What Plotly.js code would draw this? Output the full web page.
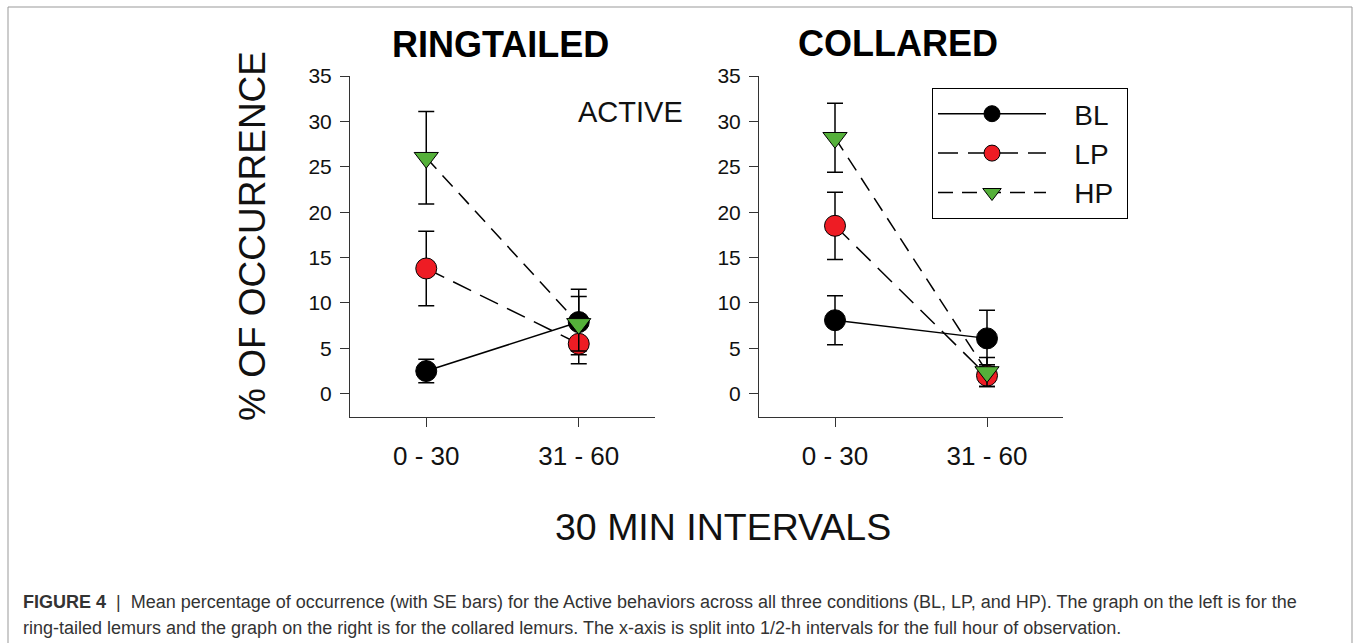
<!DOCTYPE html>
<html>
<head>
<meta charset="utf-8">
<script src="https://cdn.plot.ly/plotly-3.0.1.min.js"></script>
<style>
html,body{margin:0;padding:0;background:#fff;}
#chart{width:1356px;height:643px;}
</style>
</head>
<body>
<div id="chart"></div>
<script>
// ---- data ----
var categories = ['0 - 30', '31 - 60'];
var seriesNames = ['BL', 'LP', 'HP'];

var ringBL = [2.5, 7.9];
var ringBLse = [1.3, 3.6];
var ringLP = [13.8, 5.5];
var ringLPse = [4.1, 2.2];
var ringHP = [26.0, 7.7];
var ringHPse = [5.1, 3.0];

var collBL = [8.1, 6.1];
var collBLse = [2.7, 3.1];
var collLP = [18.5, 2.0];
var collLPse = [3.7, 1.2];
var collHP = [28.2, 2.4];
var collHPse = [3.8, 1.6];

var yTicks = [0, 5, 10, 15, 20, 25, 30, 35];
var panelTitles = ['RINGTAILED', 'COLLARED'];

// ---- styles ----
var FONT = 'Liberation Sans, Arial, sans-serif';
var styles = {
  BL: {color: '#000000', symbol: 'circle', size: 21, dash: 'solid'},
  LP: {color: '#EE1C24', symbol: 'circle', size: 21, dash: '20px,10px'},
  HP: {color: '#55B03A', symbol: 'triangle-down', size: 21, dash: '15px,9px'}
};

function mk(name, y, se, xa, ya, show) {
  var s = styles[name];
  return {
    type: 'scatter', mode: 'lines+markers',
    name: '\u00a0\u00a0\u00a0' + name + '\u00a0',
    x: categories, y: y, xaxis: xa, yaxis: ya, showlegend: show,
    line: {color: '#000', width: 1.5, dash: s.dash},
    marker: {color: s.color, symbol: s.symbol, size: s.size, line: {color: '#000', width: 1}},
    error_y: {type: 'data', array: se, visible: true, color: '#000', thickness: 1.5, width: 8},
    cliponaxis: false
  };
}

var data = [
  mk('BL', ringBL, ringBLse, 'x', 'y', false),
  mk('LP', ringLP, ringLPse, 'x', 'y', false),
  mk('HP', ringHP, ringHPse, 'x', 'y', false),
  mk('BL', collBL, collBLse, 'x2', 'y2', true),
  mk('LP', collLP, collLPse, 'x2', 'y2', true),
  mk('HP', collHP, collHPse, 'x2', 'y2', true)
];

var W = 1356, H = 643;
function px(v){ return v / W; }
function py(v){ return 1 - v / H; }

function xax(domain, anchor) {
  return {
    domain: domain, anchor: anchor, type: 'category', range: [-0.5, 1.5],
    showline: true, linecolor: '#333', linewidth: 1, mirror: false,
    ticks: 'outside', ticklen: 9, tickcolor: '#333', tickwidth: 1,
    showgrid: false, zeroline: false, fixedrange: true,
    tickfont: {family: FONT, size: 26, color: '#111'},
    ticklabelstandoff: 7
  };
}
function yax(anchor) {
  return {
    domain: [py(417), py(76)], anchor: anchor, range: [-2.56, 35],
    tickvals: yTicks, ticktext: yTicks.map(String),
    showline: true, linecolor: '#333', linewidth: 1, mirror: false,
    ticks: 'outside', ticklen: 9, tickcolor: '#333', tickwidth: 1,
    showgrid: false, zeroline: false, fixedrange: true,
    tickfont: {family: FONT, size: 21, color: '#111'},
    ticklabelstandoff: 4
  };
}

var capColor = '#333';
var layout = {
  width: W, height: H,
  margin: {l: 0, r: 0, t: 0, b: 0},
  paper_bgcolor: '#fff', plot_bgcolor: 'rgba(0,0,0,0)',
  font: {family: FONT, color: '#111'},
  xaxis: xax([px(350), px(655)], 'y'),
  yaxis: yax('x'),
  xaxis2: xax([px(759), px(1063)], 'y2'),
  yaxis2: yax('x2'),
  showlegend: true,
  legend: {
    x: px(932), y: py(88), xanchor: 'left', yanchor: 'top',
    bgcolor: '#fff', bordercolor: '#000', borderwidth: 1,
    font: {family: FONT, size: 28, color: '#111'},
    itemwidth: 108, itemsizing: 'trace', tracegroupgap: 0
  },
  shapes: [
    {type: 'rect', xref: 'paper', yref: 'paper', x0: px(8), x1: px(1352), y0: py(660), y1: py(7),
     line: {color: '#999', width: 1}, fillcolor: 'rgba(0,0,0,0)', layer: 'below'}
  ],
  annotations: [
    {text: '<b>' + panelTitles[0] + '</b>', xref: 'paper', yref: 'paper', x: px(500), y: py(45),
     showarrow: false, font: {family: FONT, size: 36, color: '#000'}, xanchor: 'center', yanchor: 'middle'},
    {text: '<b>' + panelTitles[1] + '</b>', xref: 'paper', yref: 'paper', x: px(898), y: py(43),
     showarrow: false, font: {family: FONT, size: 36, color: '#000'}, xanchor: 'center', yanchor: 'middle'},
    {text: 'ACTIVE', xref: 'paper', yref: 'paper', x: px(630), y: py(112),
     showarrow: false, font: {family: FONT, size: 29, color: '#111'}, xanchor: 'center', yanchor: 'middle'},
    {text: '% OF OCCURRENCE', xref: 'paper', yref: 'paper', x: px(252), y: py(236), textangle: -90,
     showarrow: false, font: {family: FONT, size: 37, color: '#111'}, xanchor: 'center', yanchor: 'middle'},
    {text: '30 MIN INTERVALS', xref: 'paper', yref: 'paper', x: px(723), y: py(527),
     showarrow: false, font: {family: FONT, size: 37.5, color: '#111'}, xanchor: 'center', yanchor: 'middle'},
    {text: '<b>FIGURE 4</b>  |  Mean percentage of occurrence (with SE bars) for the Active behaviors across all three conditions (BL, LP, and HP). The graph on the left is for the',
     xref: 'paper', yref: 'paper', x: px(21), y: py(602), showarrow: false, align: 'left',
     font: {family: FONT, size: 18, color: capColor}, xanchor: 'left', yanchor: 'middle'},
    {text: 'ring-tailed lemurs and the graph on the right is for the collared lemurs. The x-axis is split into 1/2-h intervals for the full hour of observation.',
     xref: 'paper', yref: 'paper', x: px(21), y: py(628), showarrow: false, align: 'left',
     font: {family: FONT, size: 18, color: capColor}, xanchor: 'left', yanchor: 'middle'}
  ]
};

Plotly.newPlot('chart', data, layout, {staticPlot: true, displayModeBar: false});
</script>
</body>
</html>
